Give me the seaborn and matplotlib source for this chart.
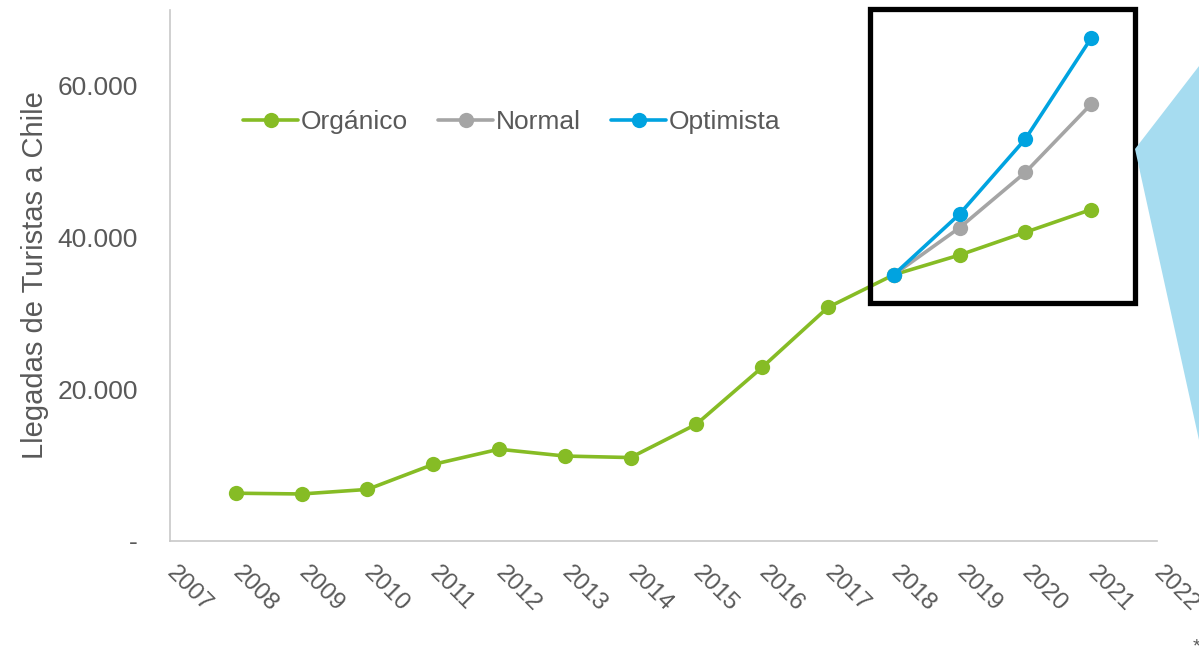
import numpy as np
import pandas as pd
import seaborn as sns
import matplotlib.pyplot as plt
from matplotlib.patches import Rectangle, Polygon

years = [2008, 2009, 2010, 2011, 2012, 2013, 2014, 2015, 2016, 2017, 2018, 2019, 2020, 2021]
organico = [6300, 6200, 6800, 10100, 12100, 11200, 11000, 15400, 22900, 30800, 35100, 37700, 40700, 43700]
proj_years = [2018, 2019, 2020, 2021]
normal = [35100, 41300, 48600, 57600]
optimista = [35100, 43100, 53000, 66300]

series = ["Orgánico", "Normal", "Optimista"]
colors = ["#86bc25", "#a5a5a5", "#00a3e0"]
tick_years = list(range(2007, 2023))
y_ticks = [0, 20000, 40000, 60000]
y_labels = ["-", "20.000", "40.000", "60.000"]

df = pd.concat([
    pd.DataFrame({"year": years, "value": organico, "serie": series[0]}),
    pd.DataFrame({"year": proj_years, "value": normal, "serie": series[1]}),
    pd.DataFrame({"year": proj_years, "value": optimista, "serie": series[2]}),
])

sns.set_theme(style="white")
plt.rcParams["font.family"] = ["Liberation Sans", "DejaVu Sans"]
grey = "#595959"

fig = plt.figure(figsize=(11.99, 6.49), dpi=100)
ax = fig.add_axes([170 / 1199, 1 - 541 / 649, (1157 - 170) / 1199, (541 - 10) / 649])

sns.lineplot(data=df, x="year", y="value", hue="serie", hue_order=series,
             palette=colors, marker="o", markersize=11, markeredgewidth=0,
             linewidth=2.6, ax=ax)

ax.set_xlim(2007, 2022)
ax.set_ylim(0, 70000)
ax.set_xticks(tick_years)
ax.set_xticklabels([str(y) for y in tick_years], rotation=-45, ha="left",
                   va="center", rotation_mode="anchor", fontsize=17.5, color=grey)
ax.set_yticks(y_ticks)
ax.set_yticklabels(y_labels, fontsize=19, color=grey)
ax.tick_params(axis="y", length=0, pad=23)
ax.tick_params(axis="x", length=0, pad=21)
ax.set_xlabel("")
ax.set_ylabel("Llegadas de Turistas a Chile", fontsize=21, color=grey, labelpad=6)

for s in ["top", "right"]:
    ax.spines[s].set_visible(False)
for s in ["left", "bottom"]:
    ax.spines[s].set_color("#c8c8c8")
    ax.spines[s].set_linewidth(1.2)

handles, labels = ax.get_legend_handles_labels()
leg = ax.legend(handles, labels, ncol=3, loc="center left", bbox_to_anchor=(0.074, 0.789),
                frameon=False, fontsize=19, handlelength=2.1, handletextpad=0.08,
                columnspacing=1.15, labelcolor=grey, borderpad=0, borderaxespad=0)

ax.add_patch(Rectangle((2017.64, 31400), 2021.67 - 2017.64, 70100 - 31400,
                       fill=False, edgecolor="black", linewidth=3.8, clip_on=False,
                       zorder=5))

fig.patches.append(Polygon([(1135 / 1199, 1 - 149 / 649), (1.02, 1 - 35 / 649),
                            (1.02, 1 - 460 / 649), (1199 / 1199, 1 - 440 / 649)],
                           closed=True, transform=fig.transFigure,
                           facecolor="#a6dcf0", edgecolor="none", zorder=0))

fig.text(1196 / 1199, 1 - 655 / 649, "*", fontsize=14, color=grey, ha="center", va="bottom")

fig.savefig("out.png", dpi=100)
